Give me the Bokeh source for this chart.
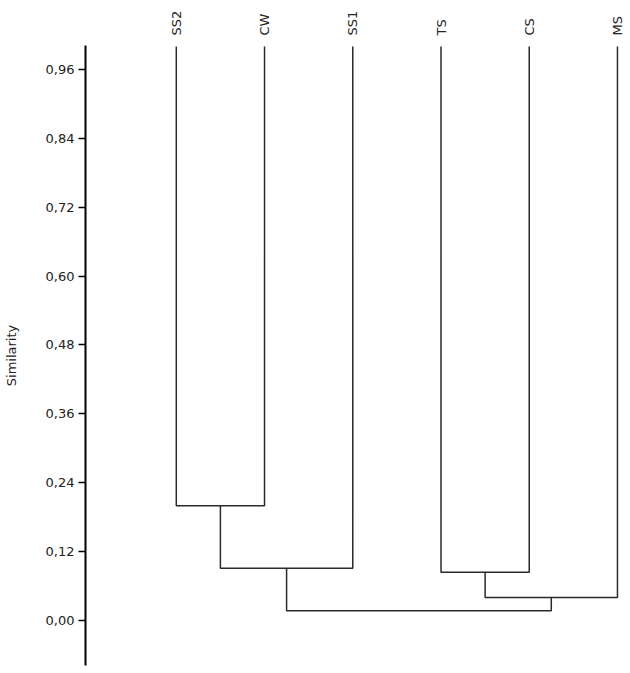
import math
from bokeh.plotting import figure
from bokeh.models import Range1d, LinearAxis, FixedTicker, CustomJSTickFormatter
from bokeh.embed import file_html
from bokeh.resources import INLINE

# ---- data ----
leaf_labels = ["SS2", "CW", "SS1", "TS", "CS", "MS"]
leaf_height = 1.0
# merges: (left cluster id, right cluster id, similarity); ids >= 6 are earlier merges
merge_left = [0, 6, 3, 8, 7]
merge_right = [1, 2, 4, 5, 9]
merge_sim = [0.200, 0.091, 0.084, 0.040, 0.017]
y_ticks = [0.0, 0.12, 0.24, 0.36, 0.48, 0.60, 0.72, 0.84, 0.96]

# ---- build dendrogram paths ----
n = len(leaf_labels)
pos = {i: float(i) for i in range(n)}
hgt = {i: leaf_height for i in range(n)}
xs, ys = [], []
for k, (a, b, s) in enumerate(zip(merge_left, merge_right, merge_sim)):
    xs.append([pos[a], pos[a], pos[b], pos[b]])
    ys.append([hgt[a], s, s, hgt[b]])
    pos[n + k] = (pos[a] + pos[b]) / 2
    hgt[n + k] = s

FONT = "DejaVu Sans"

p = figure(width=630, height=673, output_backend="svg", toolbar_location=None,
           x_axis_location=None, y_axis_location="left",
           x_range=Range1d(-1.029, 5.057), y_range=Range1d(-0.0784, 1.0018),
           min_border_left=84, min_border_right=8, min_border_top=45, min_border_bottom=8)
p.outline_line_color = None
p.xgrid.visible = False
p.ygrid.visible = False
p.background_fill_color = "white"
p.border_fill_color = "white"

p.multi_line(xs=xs, ys=ys, line_color="#2a2a2a", line_width=1.5)

# y axis
ya = p.yaxis[0]
ya.ticker = FixedTicker(ticks=y_ticks)
ya.formatter = CustomJSTickFormatter(code="return tick.toFixed(2).replace('.', ',');")
ya.minor_tick_line_color = None
ya.major_tick_in = 0
ya.major_tick_out = 7
ya.major_tick_line_width = 1.5
ya.major_tick_line_color = "black"
ya.axis_line_color = "black"
ya.axis_line_width = 2
ya.major_label_standoff = 4
ya.major_label_text_font = FONT
ya.major_label_text_font_size = "13px"
ya.major_label_text_color = "#222222"
ya.axis_label = "Similarity"
ya.axis_label_text_font = FONT
ya.axis_label_text_font_size = "13px"
ya.axis_label_text_font_style = "normal"
ya.axis_label_text_color = "#222222"
ya.axis_label_standoff = 24

# top axis with leaf labels
ta = LinearAxis(ticker=FixedTicker(ticks=list(range(n))),
                major_label_overrides={i: lab for i, lab in enumerate(leaf_labels)})
ta.axis_line_color = None
ta.major_tick_line_color = None
ta.minor_tick_line_color = None
ta.major_tick_out = 0
ta.major_tick_in = 0
ta.major_label_orientation = math.pi / 2
ta.major_label_standoff = 10
ta.major_label_text_font = FONT
ta.major_label_text_font_size = "13px"
ta.major_label_text_color = "#222222"
p.add_layout(ta, "above")

open("out.html", "w").write(file_html(p, INLINE))
